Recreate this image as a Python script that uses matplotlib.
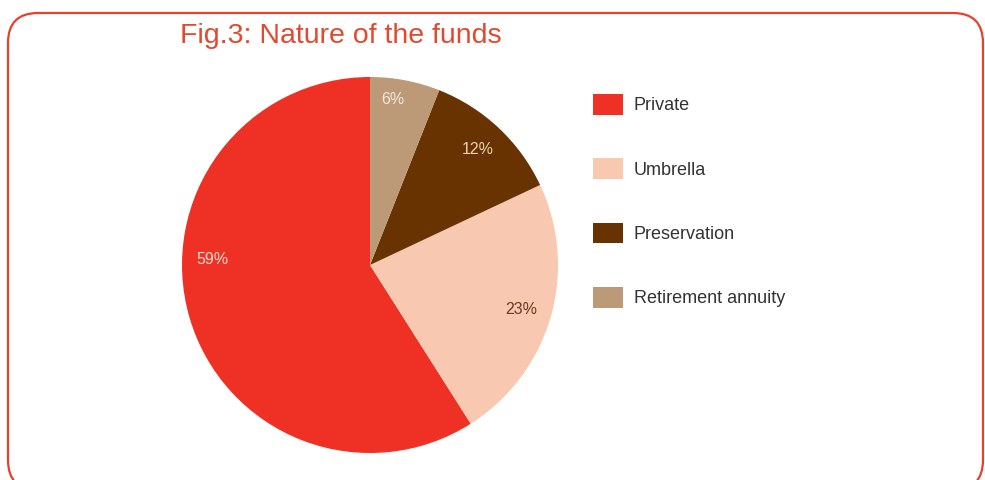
import numpy as np
import matplotlib.pyplot as plt
from matplotlib.patches import FancyBboxPatch, Patch

categories = ['Private', 'Umbrella', 'Preservation', 'Retirement annuity']
shares = [59, 23, 12, 6]
colors = ['#EE3124', '#F9C8B0', '#683300', '#BC9977']
pct_colors = ['#FADCD0', '#6A3A1C', '#EAD3B5', '#F3E9DD']

plt.rcParams['font.family'] = ['Liberation Sans', 'DejaVu Sans']

fig = plt.figure(figsize=(9.85, 4.8), dpi=100)

# background axes in pixel units for the rounded frame
bg = fig.add_axes([0, 0, 1, 1])
bg.set_xlim(0, 985)
bg.set_ylim(0, 480)
bg.axis('off')
frame = FancyBboxPatch((8, -10), 975, 477, boxstyle='round,pad=0,rounding_size=30',
                       facecolor='none', edgecolor='#E8402C', linewidth=1.6, clip_on=False)
bg.add_patch(frame)

fig.text(180 / 985, 1 - 36 / 480, 'Fig.3: Nature of the funds', color='#E2492F',
         fontsize=20.5, va='center', ha='left')

ax = fig.add_axes([182 / 985, 27 / 480, 376 / 985, 376 / 480])
wedges, texts, autotexts = ax.pie(shares, colors=colors, startangle=90, counterclock=True,
                                  autopct='%.0f%%', pctdistance=0.84,
                                  wedgeprops=dict(linewidth=0))
for t, c in zip(autotexts, pct_colors):
    t.set_color(c)
    t.set_fontsize(11.5)
# the original puts the 59% label higher and the 6% label a little further out
a = np.deg2rad(178)
autotexts[0].set_position((0.84 * np.cos(a), 0.84 * np.sin(a)))
a = np.deg2rad(82)
autotexts[3].set_position((0.89 * np.cos(a), 0.89 * np.sin(a)))
ax.set_xlim(-1, 1)
ax.set_ylim(-1, 1)
ax.set_aspect('equal')

handles = [Patch(facecolor=c, edgecolor='none') for c in colors]
fig.legend(handles, categories, loc='upper left', bbox_to_anchor=(593 / 985, 1 - 94 / 480),
           frameon=False, fontsize=13, handlelength=1.66, handleheight=1.38,
           labelspacing=2.42, handletextpad=0.6, borderpad=0, borderaxespad=0,
           labelcolor='#333333')

plt.savefig('out.png', dpi=100)
plt.close()
